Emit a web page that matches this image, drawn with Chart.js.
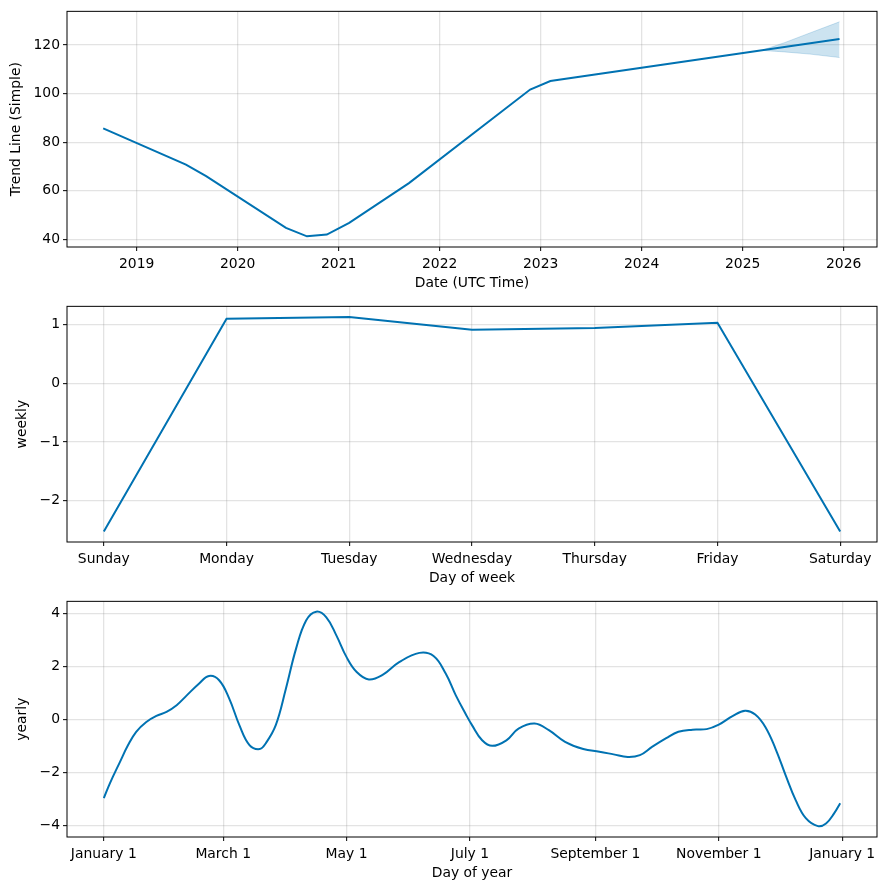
<!DOCTYPE html>
<html>
<head>
<meta charset="utf-8">
<script src="https://cdn.jsdelivr.net/npm/chart.js@4.4.0/dist/chart.umd.min.js"></script>
<style>
  body { margin: 0; background: #fff; }
  .panel { position: absolute; left: 0; width: 886px; }
</style>
</head>
<body>
<div class="panel" style="top:0"><canvas id="trend" width="886" height="295"></canvas></div>
<div class="panel" style="top:295px"><canvas id="weekly" width="886" height="295"></canvas></div>
<div class="panel" style="top:590px"><canvas id="yearly" width="886" height="300"></canvas></div>
<script>
// trend component (piecewise linear)
const trendDates = ['2018-09-02', '2019-06-28', '2019-09-09', '2020-06-24', '2020-09-08', '2020-11-19',
  '2021-02-08', '2021-09-12', '2022-11-24', '2023-02-05', '2025-12-17'];
const trendValues = [85.7, 70.8, 66.1, 44.8, 41.3, 42.0, 46.8, 63.2, 101.7, 105.2, 122.5];
// forecast uncertainty band
const bandDates = ['2025-03-15', '2025-06-01', '2025-09-01', '2025-12-17'];
const bandUpper = [118.0, 121.0, 125.0, 129.6];
const bandLower = [117.8, 117.2, 116.3, 114.9];
const trendTicks = [40, 60, 80, 100, 120];
const yearTicks = [2019, 2020, 2021, 2022, 2023, 2024, 2025, 2026];

// weekly component
const weekDays = ['Sunday', 'Monday', 'Tuesday', 'Wednesday', 'Thursday', 'Friday', 'Saturday'];
const weeklyValues = [-2.52, 1.10, 1.13, 0.91, 0.94, 1.03, -2.52];
const weeklyTicks = [-2, -1, 0, 1];

// yearly component (day of year -> value)
const yearlyDays = [0, 3, 8, 12, 16, 21, 26, 31, 36, 41, 47, 52, 57, 62, 67, 72, 77, 80, 85, 90, 95, 100,
  105, 110, 115, 120, 125, 131, 138, 146, 156, 163, 169, 174, 179, 182, 187, 192, 199, 205, 213, 220,
  228, 237, 245, 252, 259, 265, 271, 278, 284, 291, 298, 304, 311, 317, 322, 327, 332, 337, 342, 347,
  353, 357, 361, 364];
const yearlyValues = [-2.96, -2.40, -1.59, -0.96, -0.46, -0.09, 0.14, 0.29, 0.54, 0.91, 1.35, 1.64, 1.48,
  0.79, -0.21, -0.96, -1.11, -0.90, -0.21, 1.16, 2.66, 3.73, 4.06, 3.85, 3.16, 2.35, 1.79, 1.51, 1.69,
  2.16, 2.51, 2.39, 1.73, 0.91, 0.19, -0.21, -0.78, -0.99, -0.78, -0.34, -0.15, -0.40, -0.84, -1.11,
  -1.21, -1.31, -1.41, -1.34, -1.03, -0.70, -0.46, -0.38, -0.36, -0.19, 0.14, 0.33, 0.19, -0.28, -1.09,
  -2.09, -3.03, -3.71, -4.01, -3.91, -3.53, -3.15];
const monthTickDays = [0, 59, 120, 181, 243, 304, 365];
const monthTickLabels = ['January 1', 'March 1', 'May 1', 'July 1', 'September 1', 'November 1', 'January 1'];
const yearlyTicks = [-4, -2, 0, 2, 4];

const BLUE = '#0072B2';
const FONT = { family: 'DejaVu Sans', size: 13.9 };

function decimalYear(s) {
  const d = new Date(s + 'T00:00:00Z');
  const y = d.getUTCFullYear();
  const start = Date.UTC(y, 0, 1), end = Date.UTC(y + 1, 0, 1);
  return y + (d.getTime() - start) / (end - start);
}

function pairs(xs, ys) {
  return xs.map((x, i) => ({ x: x, y: ys[i] }));
}

const minus = (v) => String(v).replace('-', '\u2212');

// black box round the plot area, like matplotlib's spines
const frame = {
  id: 'frame',
  afterDraw(chart) {
    const { ctx, chartArea: a } = chart;
    ctx.save();
    ctx.strokeStyle = '#000';
    ctx.lineWidth = 1;
    ctx.strokeRect(a.left, a.top, a.right - a.left, a.bottom - a.top);
    ctx.restore();
  }
};

function axis(opts) {
  const horizontal = opts.horizontal;
  return {
    type: 'linear',
    min: opts.min,
    max: opts.max,
    border: { display: false },
    grid: { color: 'rgba(128,128,128,0.22)', lineWidth: 1.3, tickLength: 4, tickColor: '#000', tickWidth: 1 },
    ticks: {
      font: FONT, color: '#000', padding: horizontal ? 5 : 3, autoSkip: false, maxRotation: 0,
      callback: opts.label
    },
    title: {
      display: true, text: opts.title, font: FONT, color: '#000',
      padding: horizontal ? { top: 0, bottom: opts.titlePad } : { top: opts.titlePad, bottom: 0 }
    },
    afterBuildTicks(scale) { scale.ticks = opts.ticks.map(v => ({ value: v })); },
    afterFit(scale) {
      if (horizontal) scale.height = opts.size; else scale.width = opts.size;
    }
  };
}

function makeChart(id, datasets, xAxis, yAxis) {
  return new Chart(document.getElementById(id), {
    type: 'line',
    data: { datasets: datasets },
    options: {
      responsive: false,
      animation: false,
      layout: { padding: { top: 10, right: 9, left: 0, bottom: 0 } },
      plugins: { legend: { display: false }, tooltip: { enabled: false } },
      elements: { point: { radius: 0 } },
      scales: { x: xAxis, y: yAxis }
    },
    plugins: [frame]
  });
}

// panel 1: trend
makeChart('trend', [
  { data: pairs(trendDates.map(decimalYear), trendValues), borderColor: BLUE, borderWidth: 2, tension: 0, order: 1 },
  { data: pairs(bandDates.map(decimalYear), bandUpper), borderColor: 'rgba(0,114,178,0.2)', borderWidth: 1,
    backgroundColor: 'rgba(0,114,178,0.2)', fill: '+1', order: 0 },
  { data: pairs(bandDates.map(decimalYear), bandLower), borderColor: 'rgba(0,114,178,0.2)', borderWidth: 1, order: 0 }
],
  axis({ horizontal: true, min: 2018.31, max: 2026.33, ticks: yearTicks, label: v => String(v),
    title: 'Date (UTC Time)', titlePad: 3, size: 48 }),
  axis({ min: 36.9, max: 133.9, ticks: trendTicks, label: minus, title: 'Trend Line (Simple)', titlePad: 8, size: 67 })
);

// panel 2: weekly
makeChart('weekly', [
  { data: pairs(weekDays.map((d, i) => i), weeklyValues), borderColor: BLUE, borderWidth: 2, tension: 0 }
],
  axis({ horizontal: true, min: -0.3, max: 6.3, ticks: weekDays.map((d, i) => i), label: v => weekDays[v],
    title: 'Day of week', titlePad: 3, size: 48 }),
  axis({ min: -2.70, max: 1.31, ticks: weeklyTicks, label: minus, title: 'weekly', titlePad: 14, size: 67 })
);

// panel 3: yearly
makeChart('yearly', [
  { data: pairs(yearlyDays, yearlyValues), borderColor: BLUE, borderWidth: 2, tension: 0.4 }
],
  axis({ horizontal: true, min: -18.2, max: 382.2, ticks: monthTickDays,
    label: v => monthTickLabels[monthTickDays.indexOf(v)], title: 'Day of year', titlePad: 8, size: 53 }),
  axis({ min: -4.42, max: 4.45, ticks: yearlyTicks, label: minus, title: 'yearly', titlePad: 14, size: 67 })
);
</script>
</body>
</html>
